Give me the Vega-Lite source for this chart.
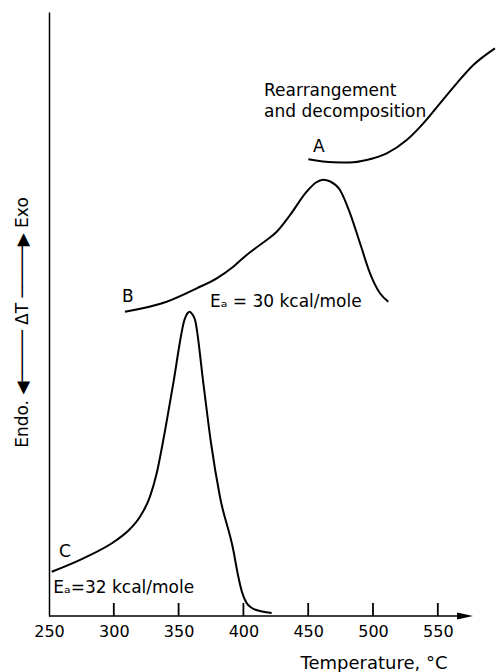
{
  "$schema": "https://vega.github.io/schema/vega-lite/v6.json",
  "width": 447,
  "height": 604,
  "autosize": {"type": "none"},
  "padding": {"left": 49, "top": 12, "right": 0, "bottom": 56},
  "background": "white",
  "config": {"view": {"stroke": null}, "font": "DejaVu Sans"},
  "datasets": {
    "curves": [
      {"curve": "C", "T": 252.1, "V": 44.3},
      {"curve": "C", "T": 276.5, "V": 57.7},
      {"curve": "C", "T": 302.2, "V": 76},
      {"curve": "C", "T": 312.5, "V": 87},
      {"curve": "C", "T": 320.2, "V": 99.3},
      {"curve": "C", "T": 327.9, "V": 119.3},
      {"curve": "C", "T": 333.1, "V": 142.7},
      {"curve": "C", "T": 338.2, "V": 176},
      {"curve": "C", "T": 345.9, "V": 232.7},
      {"curve": "C", "T": 354.9, "V": 297.7},
      {"curve": "C", "T": 357.0, "V": 303},
      {"curve": "C", "T": 358.5, "V": 304.3},
      {"curve": "C", "T": 360.1, "V": 302.5},
      {"curve": "C", "T": 362.7, "V": 296},
      {"curve": "C", "T": 369.1, "V": 232.7},
      {"curve": "C", "T": 375.0, "V": 173},
      {"curve": "C", "T": 381.9, "V": 119.3},
      {"curve": "C", "T": 392.2, "V": 66},
      {"curve": "C", "T": 395.8, "V": 41},
      {"curve": "C", "T": 398.9, "V": 24},
      {"curve": "C", "T": 402.0, "V": 14},
      {"curve": "C", "T": 406.6, "V": 8},
      {"curve": "C", "T": 412.8, "V": 5},
      {"curve": "C", "T": 421.8, "V": 3},
      {"curve": "B", "T": 308.6, "V": 304.3},
      {"curve": "B", "T": 340.8, "V": 314.3},
      {"curve": "B", "T": 364.0, "V": 327.7},
      {"curve": "B", "T": 379.4, "V": 337.7},
      {"curve": "B", "T": 392.2, "V": 349.3},
      {"curve": "B", "T": 402.5, "V": 361},
      {"curve": "B", "T": 410.0, "V": 368.5},
      {"curve": "B", "T": 418.0, "V": 376},
      {"curve": "B", "T": 425.7, "V": 384.3},
      {"curve": "B", "T": 436.0, "V": 401},
      {"curve": "B", "T": 448.8, "V": 424.3},
      {"curve": "B", "T": 456.0, "V": 433.5},
      {"curve": "B", "T": 461.5, "V": 436.3},
      {"curve": "B", "T": 467.0, "V": 434.5},
      {"curve": "B", "T": 474.5, "V": 426},
      {"curve": "B", "T": 482.3, "V": 402.7},
      {"curve": "B", "T": 490.0, "V": 372.7},
      {"curve": "B", "T": 497.7, "V": 342.7},
      {"curve": "B", "T": 505.4, "V": 322.7},
      {"curve": "B", "T": 511.8, "V": 314.3},
      {"curve": "A", "T": 450.1, "V": 456.7},
      {"curve": "A", "T": 469.4, "V": 453.7},
      {"curve": "A", "T": 482.2, "V": 453.5},
      {"curve": "A", "T": 495.1, "V": 456},
      {"curve": "A", "T": 510.6, "V": 462.7},
      {"curve": "A", "T": 526.0, "V": 476},
      {"curve": "A", "T": 538.8, "V": 492.7},
      {"curve": "A", "T": 551.7, "V": 512.7},
      {"curve": "A", "T": 564.6, "V": 532.7},
      {"curve": "A", "T": 577.4, "V": 551},
      {"curve": "A", "T": 594.1, "V": 567.7}
    ],
    "labels": [
      {"text": "Rearrangement", "T": 415.9, "V": 520},
      {"text": "and decomposition", "T": 415.9, "V": 499},
      {"text": "A", "T": 453.7, "V": 464},
      {"text": "B", "T": 306.3, "V": 314},
      {"text": "Eₐ = 30 kcal/mole", "T": 374.2, "V": 308.7},
      {"text": "C", "T": 257.7, "V": 59.3},
      {"text": "Eₐ=32 kcal/mole", "T": 253.3, "V": 22.7}
    ],
    "tickmarks": [
      {"T": 300, "V0": 0, "V1": 13},
      {"T": 350, "V0": 0, "V1": 13},
      {"T": 400, "V0": 0, "V1": 13},
      {"T": 450, "V0": 0, "V1": 13},
      {"T": 500, "V0": 0, "V1": 13},
      {"T": 550, "V0": 0, "V1": 13}
    ],
    "xaxisline": [{"T0": 250, "T1": 566, "V": 0}],
    "xarrow": [{"T": 571, "V": 0}]
  },
  "layer": [
    {
      "data": {"name": "curves"},
      "mark": {"type": "line", "interpolate": "monotone", "color": "black", "strokeWidth": 2},
      "encoding": {
        "x": {
          "field": "T", "type": "quantitative",
          "scale": {"domain": [250, 594.9], "nice": false, "zero": false},
          "axis": {
            "values": [250, 300, 350, 400, 450, 500, 550],
            "domain": false, "grid": false, "ticks": false,
            "labelPadding": 7, "labelFontSize": 16, "labelColor": "black",
            "labelFont": "DejaVu Sans", "labelFlush": false,
            "title": "Temperature, °C", "titleFontSize": 18, "titleFontWeight": "normal",
            "titleFont": "DejaVu Sans", "titleColor": "black",
            "titleX": 398, "titleY": 52, "titleAlign": "right", "titleBaseline": "alphabetic"
          }
        },
        "y": {
          "field": "V", "type": "quantitative",
          "scale": {"domain": [0, 604], "nice": false, "zero": false},
          "axis": {
            "domain": true, "domainColor": "black", "domainWidth": 1.5,
            "ticks": false, "labels": false, "grid": false,
            "title": "Endo. ◀───── ΔT ─────▶ Exo",
            "titleAngle": 270, "titleX": -27, "titleY": 310,
            "titleAlign": "center", "titleBaseline": "middle",
            "titleFontSize": 17, "titleFontWeight": "normal",
            "titleFont": "DejaVu Sans", "titleColor": "black"
          }
        },
        "detail": {"field": "curve"}
      }
    },
    {
      "data": {"name": "tickmarks"},
      "mark": {"type": "rule", "color": "black", "strokeWidth": 1.8},
      "encoding": {
        "x": {"field": "T", "type": "quantitative"},
        "y": {"field": "V0", "type": "quantitative"},
        "y2": {"field": "V1"}
      }
    },
    {
      "data": {"name": "xaxisline"},
      "mark": {"type": "rule", "color": "black", "strokeWidth": 1.5},
      "encoding": {
        "x": {"field": "T0", "type": "quantitative"},
        "x2": {"field": "T1"},
        "y": {"field": "V", "type": "quantitative"}
      }
    },
    {
      "data": {"name": "xarrow"},
      "mark": {"type": "point", "shape": "M-1,-0.45L1,0L-1,0.45Z", "size": 256, "filled": true, "color": "black", "opacity": 1},
      "encoding": {
        "x": {"field": "T", "type": "quantitative"},
        "y": {"field": "V", "type": "quantitative"}
      }
    },
    {
      "data": {"name": "labels"},
      "mark": {"type": "text", "align": "left", "baseline": "alphabetic", "font": "DejaVu Sans", "fontSize": 17, "color": "black"},
      "encoding": {
        "x": {"field": "T", "type": "quantitative"},
        "y": {"field": "V", "type": "quantitative"},
        "text": {"field": "text"}
      }
    }
  ]
}
